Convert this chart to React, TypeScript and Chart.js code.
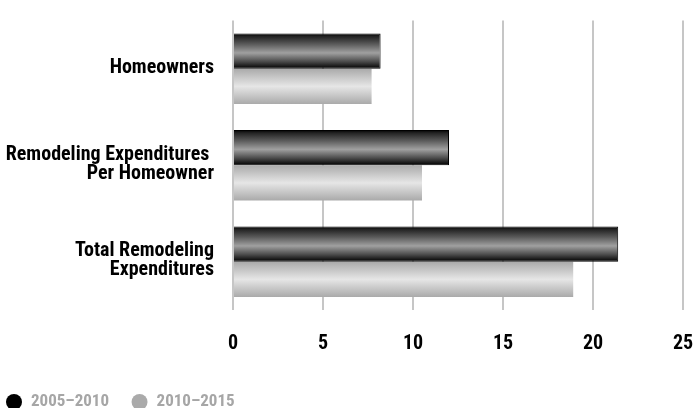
import React, { useEffect, useRef } from "react";
import { Chart, registerables } from "chart.js";

Chart.register(...registerables);

const categories: (string | string[])[] = [
  "Homeowners",
  ["Remodeling Expenditures ", "Per Homeowner"],
  ["Total Remodeling", "Expenditures"],
];
const series1Label = "2005–2010";
const series2Label = "2010–2015";
const series1Values = [8.2, 12.0, 21.4];
const series2Values = [7.7, 10.5, 18.9];
const xTicks = [0, 5, 10, 15, 20, 25];

const FONT = '"Roboto Condensed", "Liberation Sans Narrow", sans-serif';

const gradientPlugin = {
  id: "barGradient",
  beforeDatasetDraw(chart: any, args: any) {
    const ctx = chart.ctx;
    const meta = args.meta;
    const idx = args.index;
    meta.data.forEach((el: any) => {
      const top = el.y - el.height / 2;
      const bottom = el.y + el.height / 2;
      const g = ctx.createLinearGradient(0, top, 0, bottom);
      if (idx === 0) {
        g.addColorStop(0, "#000000");
        g.addColorStop(0.08, "#222222");
        g.addColorStop(0.3, "#5a5a5a");
        g.addColorStop(0.55, "#a0a0a0");
        g.addColorStop(0.8, "#4a4a4a");
        g.addColorStop(0.95, "#111111");
        g.addColorStop(1, "#000000");
      } else {
        g.addColorStop(0, "#aaaaaa");
        g.addColorStop(0.5, "#e6e6e6");
        g.addColorStop(1, "#aaaaaa");
      }
      el.options = Object.assign({}, el.options, { backgroundColor: g });
    });
  },
};

export default function App() {
  const ref = useRef<HTMLCanvasElement | null>(null);
  useEffect(() => {
    document.body.style.margin = "0";
    const canvas = ref.current;
    if (!canvas) return;
    const chart = new Chart(canvas, {
      type: "bar",
      data: {
        labels: categories,
        datasets: [
          {
            label: series1Label,
            data: series1Values,
            backgroundColor: "#555",
            borderColor: "#000",
            borderWidth: 1,
            categoryPercentage: 0.73,
            barPercentage: 1,
          },
          {
            label: series2Label,
            data: series2Values,
            backgroundColor: "#ccc",
            borderWidth: 0,
            categoryPercentage: 0.73,
            barPercentage: 1,
          },
        ],
      },
      plugins: [gradientPlugin],
      options: {
        indexAxis: "y",
        animation: false,
        responsive: false,
        maintainAspectRatio: false,
        layout: { padding: { top: 20.5, right: 11, left: -16.5, bottom: -12.5 } },
        scales: {
          x: {
            min: 0,
            max: 25,
            afterBuildTicks: (scale: any) => {
              scale.ticks = xTicks.map((v) => ({ value: v }));
            },
            afterFit: (scale: any) => {
              scale.height = 61.5;
              scale.paddingLeft = 0;
              scale.paddingRight = 0;
            },
            grid: { color: "#c6c6c6", lineWidth: 2, drawTicks: false },
            border: { display: false },
            ticks: {
              color: "#000",
              padding: 22,
              maxRotation: 0,
              font: { family: FONT, size: 20, weight: "bold" },
            },
          },
          y: {
            grid: { display: false, drawTicks: false },
            border: { display: false },
            afterFit: (scale: any) => {
              scale.width = 249.5;
              scale.paddingTop = 0;
              scale.paddingBottom = 0;
            },
            ticks: {
              color: "#000",
              padding: 19,
              labelOffset: -1,
              font: { family: FONT, size: 20, weight: "bold", lineHeight: 0.95 },
            },
          },
        },
        plugins: {
          tooltip: { enabled: false },
          legend: {
            position: "bottom",
            align: "start",
            labels: {
              usePointStyle: true,
              pointStyle: "circle",
              boxWidth: 17,
              boxHeight: 11.3,
              padding: 22,
              color: "#a6a6a6",
              font: { family: FONT, size: 17, weight: "bold" },
              generateLabels: () => [
                {
                  text: series1Label,
                  fillStyle: "#000000",
                  strokeStyle: "#000000",
                  lineWidth: 0,
                  pointStyle: "circle",
                  fontColor: "#a6a6a6",
                  datasetIndex: 0,
                  hidden: false,
                },
                {
                  text: series2Label,
                  fillStyle: "#aaaaaa",
                  strokeStyle: "#aaaaaa",
                  lineWidth: 0,
                  pointStyle: "circle",
                  fontColor: "#a6a6a6",
                  datasetIndex: 1,
                  hidden: false,
                },
              ],
            },
          },
        },
      },
    } as any);
    return () => chart.destroy();
  }, []);
  return (
    <div style={{ width: 694, height: 408 }}>
      <canvas ref={ref} width={694} height={408} style={{ display: "block" }} />
    </div>
  );
}
